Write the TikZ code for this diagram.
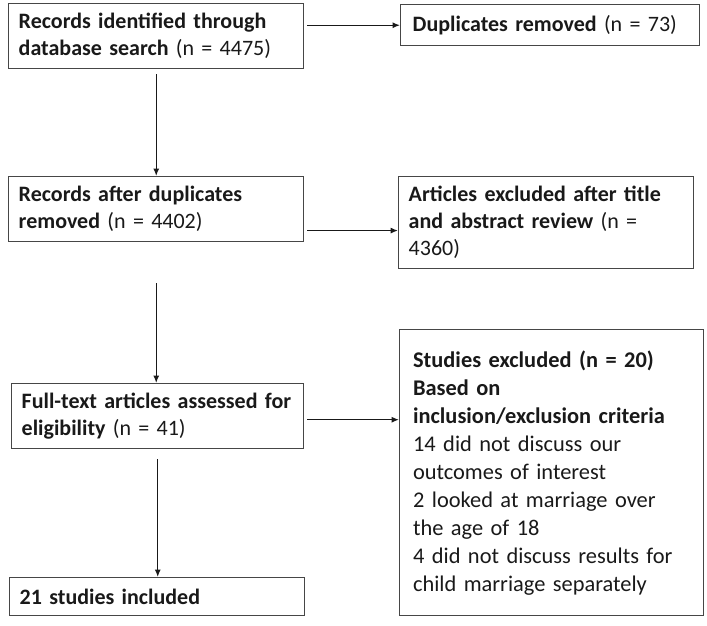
\documentclass[tikz,border=0pt]{standalone}
\usepackage{fontspec}
\setmainfont{Carlito}
\usepackage{tikz}
\usetikzlibrary{arrows.meta,calc,positioning}
\definecolor{boxline}{RGB}{70,70,70}
\definecolor{boxtext}{RGB}{25,25,25}
\tikzset{
	flow chart/.style={
		x=0.75pt, y=-0.75pt,
		ar/.style={draw=boxtext, line width=1pt, -{Latex[length=5.5pt,width=4.5pt]}},
		},
	fc font/.store in=\fcfont,
	fc font=\fontsize{16.5}{20.25}\selectfont,
	fc box/.style 2 args={draw=boxline, line width=1.1pt, anchor=north west, align=left,
		text=boxtext, inner xsep=7.5pt, inner ysep=0pt, text width=#1, minimum height=#2,
		font=\fcfont},
}

\begin{document}
\begin{tikzpicture}[flow chart]
    \useasboundingbox (0,0) rectangle (707,625);
    % left column
    \node[fc box={206.25pt}{48.75pt}] (recid) at (8,3)
      {\textbf{Records identified through}\\\textbf{database search} (n = 4475)};
    \node[fc box={206.25pt}{48.75pt}] (recdup) at (8,176)
      {\textbf{Records after duplicates}\\\textbf{removed} (n = 4402)};
    \node[fc box={204pt}{48.75pt}] (fulltext) at (11,383)
      {\textbf{Full-text articles assessed for}\\\textbf{eligibility} (n = 41)};
    \node[fc box={206.25pt}{28.5pt}] (included) at (9,577)
      {\textbf{21 studies included}};
    % right column
    \node[fc box={206.25pt}{30.75pt}, inner xsep=9pt] (dupl) at (400,4)
      {\textbf{Duplicates removed} (n = 73)};
    \node[fc box={206.25pt}{69pt}] (absexcl) at (398,176)
      {\textbf{Articles excluded after title}\\\textbf{and abstract review} (n =\\4360)};
    \node[fc box={208pt}{214.5pt}, inner xsep=10pt, fc font=\fontsize{16.8}{21}\selectfont] (studexcl) at (399,329)
      {\textbf{Studies excluded (n = 20)}\\\textbf{Based on}\\\textbf{inclusion/exclusion criteria}\\
       14 did not discuss our\\outcomes of interest\\2 looked at marriage over\\the age of 18\\
       4 did not discuss results for\\child marriage separately};
    \draw[ar, shorten <=3.75pt] (recid.south) -- (recid.south |- recdup.north);
    \draw[ar, shorten <=30.75pt] (recdup.south) -- (recdup.south |- fulltext.north);
    \draw[ar, shorten <=7.5pt] (fulltext.south) -- (fulltext.south |- included.north);
    \draw[ar, shorten <=2pt] (recid.east |- dupl.west) -- (dupl.west);
    \draw[ar, shorten <=2pt] ([yshift=-16pt]recdup.east) -- ([yshift=-16pt]recdup.east -| absexcl.west);
    \draw[ar, shorten <=2pt] ([yshift=-2.6pt]fulltext.east) -- ([yshift=-2.6pt]fulltext.east -| studexcl.west);
\end{tikzpicture}
\end{document}
